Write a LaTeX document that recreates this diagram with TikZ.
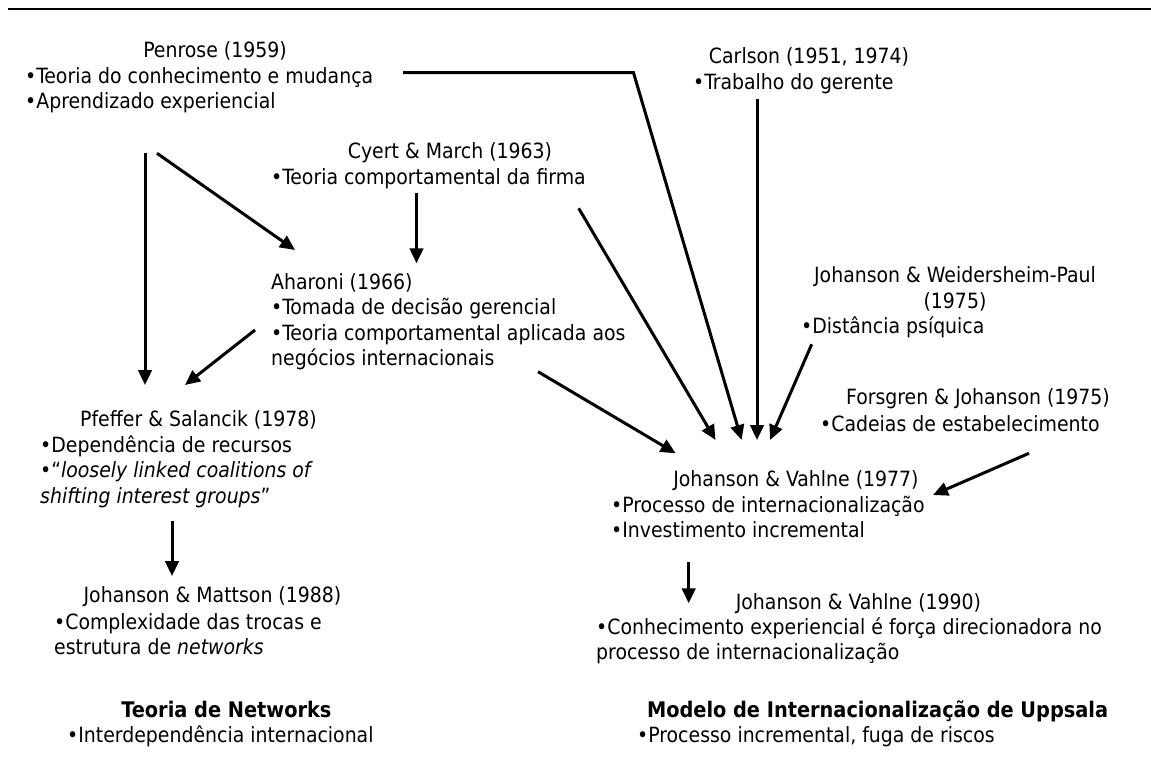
\documentclass[tikz,border=0pt]{standalone}
\usepackage{fontspec}
\setmainfont{DejaVu Sans Condensed}
\usetikzlibrary{arrows.meta}

\tikzset{
  txt/.style={inner sep=0pt, anchor=mid west, font=\fontsize{21}{26}\selectfont},
  ttl/.style={inner sep=0pt, anchor=mid, font=\fontsize{21}{26}\selectfont},
  head/.style={inner sep=0pt, anchor=mid, font=\fontsize{21.5}{26}\selectfont\bfseries},
  link/.style={line width=3pt, -{Triangle[length=15pt,width=13.5pt]}},
}

\begin{document}
\begin{tikzpicture}[x=1pt, y=-1pt]
\useasboundingbox (0,0) rectangle (1151,760);

% header rule
\draw[line width=2.5pt] (8,9) -- (1151,9);

% Penrose
\node[ttl] (penT) at (215,55) {Penrose (1959)};
\node[txt] (penA) at (25,80.7) {•Teoria do conhecimento e mudança};
\node[txt] (penB) at (25,105.5) {•Aprendizado experiencial};

% Carlson
\node[ttl] (carT) at (809,61) {Carlson (1951, 1974)};
\node[txt] (carA) at (693,86.7) {•Trabalho do gerente};

% Cyert & March
\node[ttl] (cyT) at (450,156) {Cyert \& March (1963)};
\node[txt] (cyA) at (271,181.7) {•Teoria comportamental da firma};

% Aharoni
\node[txt] (ahT) at (271,286.7) {Aharoni (1966)};
\node[txt] (ahA) at (271,311.7) {•Tomada de decisão gerencial};
\node[txt] (ahB) at (271,337.3) {•Teoria comportamental aplicada aos};
\node[txt] (ahC) at (271,363) {negócios internacionais};

% Johanson & Weidersheim-Paul
\node[ttl] (jwT) at (955,280) {Johanson \& Weidersheim-Paul};
\node[ttl] (jwY) at (955,306) {(1975)};
\node[txt] (jwA) at (801,331) {•Distância psíquica};

% Forsgren & Johanson
\node[ttl] (fjT) at (978,401.7) {Forsgren \& Johanson (1975)};
\node[txt] (fjA) at (820,428.3) {•Cadeias de estabelecimento};

% Johanson & Vahlne 1977
\node[ttl] (jv7T) at (796,483.3) {Johanson \& Vahlne (1977)};
\node[txt] (jv7A) at (611,509.3) {•Processo de internacionalização};
\node[txt] (jv7B) at (611,534.5) {•Investimento incremental};

% Johanson & Vahlne 1990
\node[ttl] (jv9T) at (858.5,606.7) {Johanson \& Vahlne (1990)};
\node[txt] (jv9A) at (596,631.7) {•Conhecimento experiencial é força direcionadora no};
\node[txt] (jv9B) at (596,657) {processo de internacionalização};

% Pfeffer & Salancik
\node[ttl] (pfT) at (198.5,423.3) {Pfeffer \& Salancik (1978)};
\node[txt] (pfA) at (40,449.3) {•Dependência de recursos};
\node[txt] (pfB) at (40,475) {•“\textit{loosely linked coalitions of}};
\node[txt] (pfC) at (40,500.5) {\textit{shifting interest groups}”};

% Johanson & Mattson
\node[ttl] (jmT) at (212.5,599.3) {Johanson \& Mattson (1988)};
\node[txt] (jmA) at (54,626.7) {•Complexidade das trocas e};
\node[txt] (jmB) at (54,652) {estrutura de \textit{networks}};

% schools of thought
\node[head] (netT) at (226.5,715) {Teoria de Networks};
\node[txt] (netA) at (67,740) {•Interdependência internacional};
\node[head] (upT) at (877.6,715) {Modelo de Internacionalização de Uppsala};
\node[txt] (upA) at (637,740) {•Processo incremental, fuga de riscos};

% connector end points
\coordinate (penV0) at (145,152.7);
\coordinate (penV1) at (145,385);
\coordinate (penD0) at (157,153.3);
\coordinate (penD1) at (295,250);
\coordinate (cyV0) at (416.5,193.3);
\coordinate (cyV1) at (416.5,263.3);
\coordinate (ahP0) at (255,330);
\coordinate (ahP1) at (185,385);
\coordinate (penJ0) at (403,72.7);
\coordinate (penJk) at (633.5,72.7);
\coordinate (penJ1) at (741.6,440);
\coordinate (carV0) at (757,99.3);
\coordinate (carV1) at (757,440);
\coordinate (cyJ0) at (578.7,208.3);
\coordinate (cyJ1) at (715.5,440);
\coordinate (ahJ0) at (538,371.7);
\coordinate (ahJ1) at (675.7,453.3);
\coordinate (jwJ0) at (811.7,344.3);
\coordinate (jwJ1) at (770,440);
\coordinate (fjJ0) at (1029,453.3);
\coordinate (fjJ1) at (933,495);
\coordinate (jvV0) at (688.7,561.7);
\coordinate (jvV1) at (688.7,603.3);
\coordinate (pfV0) at (172,521);
\coordinate (pfV1) at (172,576);

% connectors
\draw[link] (penV0) -- (penV1);
\draw[link] (penD0) -- (penD1);
\draw[link] (cyV0) -- (cyV1);
\draw[link] (ahP0) -- (ahP1);
\draw[link] (penJ0) -- (penJk) -- (penJ1);
\draw[link] (carV0) -- (carV1);
\draw[link] (cyJ0) -- (cyJ1);
\draw[link] (ahJ0) -- (ahJ1);
\draw[link] (jwJ0) -- (jwJ1);
\draw[link] (fjJ0) -- (fjJ1);
\draw[link] (jvV0) -- (jvV1);
\draw[link] (pfV0) -- (pfV1);
\end{tikzpicture}
\end{document}
